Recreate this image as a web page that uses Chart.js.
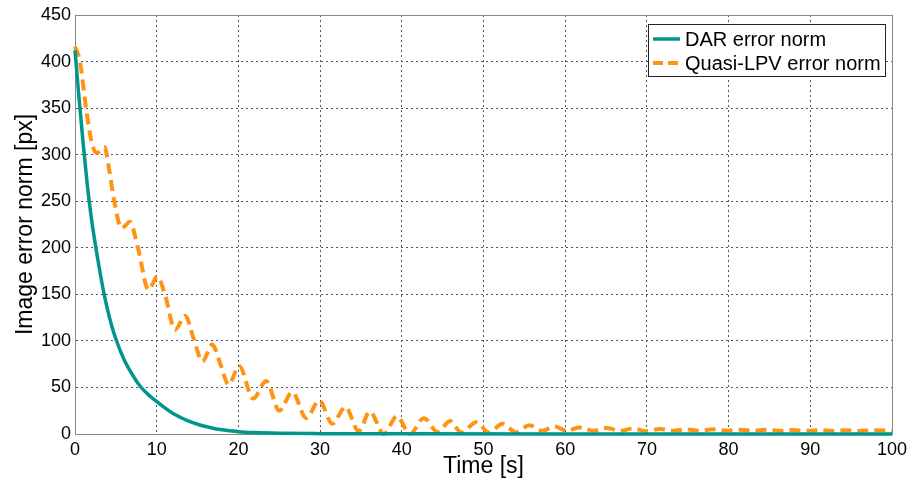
<!DOCTYPE html>
<html>
<head>
<meta charset="utf-8">
<script src="https://cdn.jsdelivr.net/npm/chart.js@4"></script>
<style>
html,body{margin:0;padding:0;background:#fff;}
#wrap{width:909px;height:486px;}
</style>
</head>
<body>
<div id="wrap"><canvas id="c" width="909" height="486"></canvas></div>
<script>
// ---- Data ----
const seriesLabels = ["DAR error norm", "Quasi-LPV error norm"];
const darTime = [0, 0.5, 1, 1.5, 2, 2.5, 3, 3.5, 4, 4.5, 5, 6, 7, 8, 9, 10, 11, 12, 13, 14, 15, 16, 17, 18, 19, 20, 22, 25, 30, 40, 60, 100];
const darValue = [412, 360, 312, 268, 232, 203, 177, 153, 133, 116, 102, 80, 64, 51, 42, 35, 28, 22, 17.5, 13.5, 10.5, 8, 6, 4.5, 3.5, 2.5, 1.5, 0.8, 0.4, 0.2, 0.1, 0.1];
const lpvTime = [0, 0.6, 1.35, 2.0, 2.6, 3.0, 3.6, 4.2, 4.8, 5.7, 6.2, 6.7, 7.7, 9.0, 10.1, 11.0, 12.25, 13.5, 14.5, 15.6, 16.8, 17.8, 18.8, 20.1, 21.8, 23.4, 25.0, 26.6, 28.3, 29.9, 31.5, 33.1, 34.7, 36.1, 37.8, 39.4, 41.0, 42.7, 44.4, 45.9, 47.3, 49.1, 50.7, 52.3, 54.0, 55.6, 57.2, 58.7, 60.2, 61.7, 63.5, 65.0, 66.8, 68.3, 69.9, 71.6, 73.2, 74.8, 76.5, 78.1, 79.8, 81.4, 83.0, 84.6, 86.3, 87.9, 89.5, 91.1, 92.8, 94.4, 96.0, 97.6, 100];
const lpvValue = [416, 400, 350, 315, 302, 303, 308, 283, 250, 221, 224, 228, 200, 155, 169, 150, 112, 127, 103, 78, 96, 75, 53, 73, 38, 57, 25, 45, 17, 36, 11, 29, 3, 24, 0, 19, 0, 17, 2, 14, 1.5, 12.5, 1.5, 11, 2, 9.5, 3.5, 8, 3.5, 7, 3.5, 6.5, 3.5, 6, 3, 5.5, 3.5, 5, 3.5, 5, 3.5, 4.6, 3.5, 4.5, 3.4, 4.3, 3.4, 4.2, 3.3, 4, 3.3, 4, 3.5];
const xTicks = [0, 10, 20, 30, 40, 50, 60, 70, 80, 90, 100];
const yTicks = [0, 50, 100, 150, 200, 250, 300, 350, 400, 450];
const xTitle = "Time [s]";
const yTitle = "Image error norm [px]";

const TEAL = "#00968C";
const ORANGE = "#FF9414";
const FONT = "'Liberation Sans', Arial, sans-serif";

const toPts = (t, v) => t.map((x, i) => ({x: x, y: v[i]}));

const frameAndLegend = {
  id: "frameAndLegend",
  afterDatasetsDraw(chart) {
    const {ctx, chartArea: a} = chart;
    ctx.save();
    ctx.strokeStyle = "#8a8a8a";
    ctx.lineWidth = 1;
    ctx.setLineDash([]);
    ctx.beginPath();
    ctx.moveTo(a.left, a.top + 0.5);
    ctx.lineTo(a.right + 0.5, a.top + 0.5);
    ctx.lineTo(a.right + 0.5, a.bottom);
    ctx.stroke();
    ctx.restore();
  },
  afterDraw(chart) {
    const {ctx, chartArea: a} = chart;
    const ds = chart.data.datasets;
    const bx = a.right - 244, by = a.top + 9, bw = 237, bh = 52;
    ctx.save();
    ctx.fillStyle = "#fff";
    ctx.fillRect(bx, by, bw, bh);
    ctx.strokeStyle = "#222";
    ctx.lineWidth = 1;
    ctx.strokeRect(bx + 0.5, by + 0.5, bw, bh);
    ctx.font = "20px " + FONT;
    ctx.textBaseline = "middle";
    ctx.fillStyle = "#000";
    ds.forEach((d, i) => {
      const y = by + 15 + i * 24;
      ctx.beginPath();
      ctx.strokeStyle = d.borderColor;
      ctx.lineWidth = d.borderWidth;
      ctx.setLineDash(d.borderDash ? [10, 5] : []);
      ctx.moveTo(bx + 5, y);
      ctx.lineTo(bx + 32, y);
      ctx.stroke();
      ctx.setLineDash([]);
      ctx.fillText(d.label, bx + 37, y + 1);
    });
    ctx.restore();
  }
};

new Chart(document.getElementById("c"), {
  type: "line",
  data: {
    datasets: [
      {
        label: seriesLabels[0],
        data: toPts(darTime, darValue),
        borderColor: TEAL,
        borderWidth: 3.5,
        pointRadius: 0,
        cubicInterpolationMode: "monotone",
        clip: false
      },
      {
        label: seriesLabels[1],
        data: toPts(lpvTime, lpvValue),
        borderColor: ORANGE,
        borderWidth: 4,
        borderDash: [11, 6],
        pointRadius: 0,
        cubicInterpolationMode: "monotone",
        clip: false
      }
    ]
  },
  options: {
    responsive: false,
    devicePixelRatio: 1,
    animation: false,
    layout: {padding: {left: 0, top: 15, right: 17, bottom: 0}},
    plugins: {legend: {display: false}, tooltip: {enabled: false}},
    scales: {
      x: {
        type: "linear",
        min: 0, max: 100,
        afterBuildTicks: s => { s.ticks = xTicks.map(v => ({value: v})); },
        afterFit: s => { s.height = 52; s.paddingLeft = 0; s.paddingRight = 0; },
        ticks: {color: "#000", font: {family: FONT, size: 18}, padding: 5, maxRotation: 0, autoSkip: false},
        grid: {color: "#555", lineWidth: 1, drawTicks: false},
        border: {color: "#8a8a8a", width: 1, dash: [2, 3], display: true},
        title: {display: true, text: xTitle, color: "#000", font: {family: FONT, size: 23}, padding: {top: 0, bottom: 6}}
      },
      y: {
        type: "linear",
        min: 0, max: 450,
        afterBuildTicks: s => { s.ticks = yTicks.map(v => ({value: v})); },
        afterFit: s => { s.width = 75; s.paddingTop = 0; s.paddingBottom = 0; },
        ticks: {color: "#000", font: {family: FONT, size: 18}, padding: 4, autoSkip: false},
        grid: {color: "#555", lineWidth: 1, drawTicks: false},
        border: {color: "#8a8a8a", width: 1, dash: [2, 3], display: true},
        title: {display: true, text: yTitle, color: "#000", font: {family: FONT, size: 23}, padding: {top: 12, bottom: 0}}
      }
    }
  },
  plugins: [frameAndLegend]
});
</script>
</body>
</html>
